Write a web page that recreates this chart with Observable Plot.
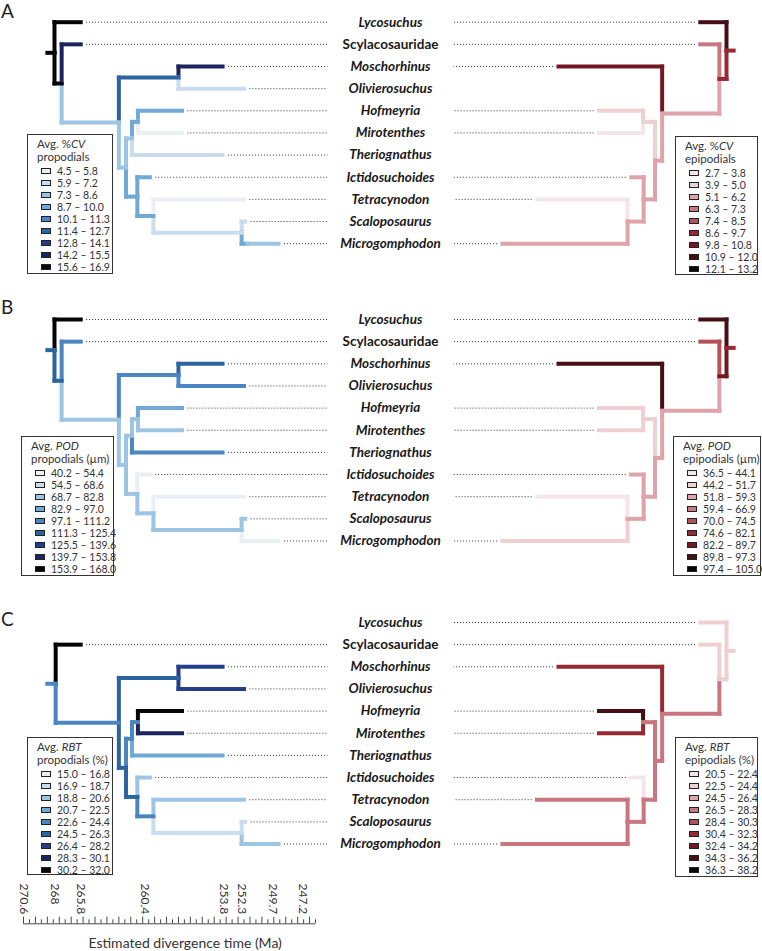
<!DOCTYPE html>
<html><head><meta charset="utf-8">
<script src="https://cdn.jsdelivr.net/npm/d3@7"></script>
<script src="https://cdn.jsdelivr.net/npm/@observablehq/plot@0.6"></script>
<style>
body{margin:0;background:#fff;font-family:Lato,"Open Sans",sans-serif;}
#wrap{position:relative;width:762px;height:951px;overflow:hidden;}
#wrap svg{position:absolute;left:0;top:0;}
.letter{position:absolute;font-size:19px;color:#222;line-height:20px;}
.legend{position:absolute;background:#fff;border:1.5px solid #333;box-sizing:border-box;color:#333;}
.legend .t{position:absolute;left:9px;font-size:11.5px;line-height:12px;white-space:nowrap;transform:translateY(-50%);}
.legend .it{position:absolute;font-size:10.5px;line-height:11px;white-space:nowrap;transform:translateY(-50%);}
.legend .sw{position:absolute;width:10px;height:6px;box-sizing:border-box;border:1px solid #222;transform:translateY(-50%);}
</style></head><body><div id="wrap"></div>
<script>
// ---------- data ----------
const taxa = ["Lycosuchus","Scylacosauridae","Moschorhinus","Olivierosuchus","Hofmeyria","Mirotenthes","Theriognathus","Ictidosuchoides","Tetracynodon","Scaloposaurus","Microgomphodon"];
const uprightTaxa = ["Scylacosauridae"];
const tipAges = [265.8, 265.8, 253.9, 252.1, 257.3, 257.3, 253.9, 260.0, 252.1, 252.0, 249.2];
const nodeNames = ["root","N1","N2","N3","N4","N5","N6","N7","N8","N9"];
const nodeAges = [268.0, 267.4, 262.6, 257.6, 262.0, 261.5, 261.0, 261.05, 259.7, 252.3];
const nodeChildren = [["Lycosuchus","N1"],["Scylacosauridae","N2"],["N3","N4"],["Moschorhinus","Olivierosuchus"],["N5","N7"],["N6","Theriognathus"],["Hofmeyria","Mirotenthes"],["Ictidosuchoides","N8"],["Tetracynodon","N9"],["Scaloposaurus","Microgomphodon"]];
const stemAge = 268.6;

const epipodialTaxa = ["Lycosuchus","Scylacosauridae","Moschorhinus","Hofmeyria","Mirotenthes","Ictidosuchoides","Tetracynodon","Microgomphodon"];
const rbtPropodialTaxa = taxa.filter(t => t !== "Lycosuchus");

// colour bins (1..9) of each branch, keyed by the branch's child; [bin, changeAge, bin] for a change along the branch
const cvPropodial = {stem:9, Lycosuchus:9, N1:9, Scylacosauridae:8, N2:3, N3:6, Moschorhinus:8, Olivierosuchus:2, N4:3, N5:3, N6:4, Hofmeyria:4, Mirotenthes:1, Theriognathus:2, N7:4, Ictidosuchoides:4, N8:4, Tetracynodon:1, N9:2, Scaloposaurus:2, Microgomphodon:[4, 251.8, 3]};
const cvEpipodial = {stem:6, Lycosuchus:8, N1:6, Scylacosauridae:4, N2:3, Moschorhinus:7, N4:3, N6:2, Hofmeyria:2, Mirotenthes:1, N7:3, Ictidosuchoides:3, N8:3, Tetracynodon:1, Microgomphodon:3};
const podPropodial = {stem:6, Lycosuchus:9, N1:6, Scylacosauridae:5, N2:3, N3:5, Moschorhinus:6, Olivierosuchus:5, N4:3, N5:3, N6:3, Hofmeyria:4, Mirotenthes:3, Theriognathus:5, N7:3, Ictidosuchoides:1, N8:3, Tetracynodon:1, N9:3, Scaloposaurus:3, Microgomphodon:1};
const podEpipodial = {stem:6, Lycosuchus:8, N1:7, Scylacosauridae:5, N2:3, Moschorhinus:8, N4:3, N6:2, Hofmeyria:2, Mirotenthes:2, N7:3, Ictidosuchoides:3, N8:3, Tetracynodon:1, Microgomphodon:2};
const rbtPropodial = {stem:5, Scylacosauridae:9, N2:5, N3:6, Moschorhinus:7, Olivierosuchus:7, N4:6, N5:5, N6:5, Hofmeyria:9, Mirotenthes:8, Theriognathus:4, N7:6, Ictidosuchoides:3, N8:5, Tetracynodon:3, N9:2, Scaloposaurus:2, Microgomphodon:3};
const rbtEpipodial = {stem:2, Lycosuchus:2, N1:2, Scylacosauridae:2, N2:4, Moschorhinus:6, N4:4, N6:4, Hofmeyria:8, Mirotenthes:6, N7:4, Ictidosuchoides:1, N8:4, Tetracynodon:4, Microgomphodon:4};

const bluePalette = ["#e9eff5","#c9ddee","#9cc4e3","#70a9d5","#4a87c2","#2c64a2","#233f88","#1b2660","#050505"];
const redPalette  = ["#f4e6e8","#eed0d3","#dea4a9","#c9767e","#b3525a","#982932","#731820","#470e14","#050505"];

const legendCvProp  = ["4.5 – 5.8","5.9 – 7.2","7.3 – 8.6","8.7 – 10.0","10.1 – 11.3","11.4 – 12.7","12.8 – 14.1","14.2 – 15.5","15.6 – 16.9"];
const legendCvEpi   = ["2.7 – 3.8","3.9 – 5.0","5.1 – 6.2","6.3 – 7.3","7.4 – 8.5","8.6 – 9.7","9.8 – 10.8","10.9 – 12.0","12.1 – 13.2"];
const legendPodProp = ["40.2 – 54.4","54.5 – 68.6","68.7 – 82.8","82.9 – 97.0","97.1 – 111.2","111.3 – 125.4","125.5 – 139.6","139.7 – 153.8","153.9 – 168.0"];
const legendPodEpi  = ["36.5 – 44.1","44.2 – 51.7","51.8 – 59.3","59.4 – 66.9","70.0 – 74.5","74.6 – 82.1","82.2 – 89.7","89.8 – 97.3","97.4 – 105.0"];
const legendRbtProp = ["15.0 – 16.8","16.9 – 18.7","18.8 – 20.6","20.7 – 22.5","22.6 – 24.4","24.5 – 26.3","26.4 – 28.2","28.3 – 30.1","30.2 – 32.0"];
const legendRbtEpi  = ["20.5 – 22.4","22.5 – 24.4","24.5 – 26.4","26.5 – 28.3","28.4 – 30.3","30.4 – 32.3","32.4 – 34.2","34.3 – 36.2","36.3 – 38.2"];

const axisTickLabels = [270.6, 268, 265.8, 260.4, 253.8, 252.3, 249.7, 247.2];
const axisTitle = "Estimated divergence time (Ma)";

// ---------- layout ----------
const rowStep = 22.15;
const centerAge = 239.81;      // age position of the centred tip labels (mirror axis)
const dotStopAge = 245.1;      // where dotted leaders stop, left side
const axisTitleStartAge = 265.15;
const panels = [
  {letter:"A", letterY:0, y0:21.7,
   left:{present:taxa, colors:cvPropodial, override:{}, legend:{title:'Avg. %<i>CV</i>', sub:'propodials', labels:legendCvProp, box:[27,134,86,140]}},
   right:{present:epipodialTaxa, colors:cvEpipodial, override:{}, legend:{title:'Avg. %<i>CV</i>', sub:'epipodials', labels:legendCvEpi, box:[675,136,83,139]}}},
  {letter:"B", letterY:296, y0:319,
   left:{present:taxa, colors:podPropodial, override:{}, legend:{title:'Avg. <i>POD</i>', sub:'propodials (µm)', labels:legendPodProp, box:[21,436,93,140]}},
   right:{present:epipodialTaxa, colors:podEpipodial, override:{}, legend:{title:'Avg. <i>POD</i>', sub:'epipodials (µm)', labels:legendPodEpi, box:[673,436,88,140]}}},
  {letter:"C", letterY:608, y0:622,
   left:{present:rbtPropodialTaxa, colors:rbtPropodial, override:{N1:267.9}, legend:{title:'Avg. <i>RBT</i>', sub:'propodials (%)', labels:legendRbtProp, box:[27,737,86,138]}},
   right:{present:epipodialTaxa, colors:rbtEpipodial, override:{}, legend:{title:'Avg. <i>RBT</i>', sub:'epipodials (%)', labels:legendRbtEpi, box:[675,737,83,140]}}}
];

// ---------- tree geometry ----------
const ageOf = {}; taxa.forEach((t,i)=>ageOf[t]=tipAges[i]); nodeNames.forEach((n,i)=>ageOf[n]=nodeAges[i]);
const kids = {}; nodeNames.forEach((n,i)=>kids[n]=nodeChildren[i]);

const segs = [], dots = [], labels = [];
function buildSide(panel, side, cfg) {
  const X = t => side === "L" ? t : 2*centerAge - t;
  const age = n => cfg.override[n] ?? ageOf[n];
  const pre = side === "L" ? "B" : "R";
  function edge(p, py, c) {
    const spec = [].concat(cfg.colors[c.name]);
    const pa = age(p), ca = age(c.name);
    segs.push({x1:X(pa), x2:X(pa), y1:py, y2:c.y, bin:pre+spec[0], o:0});
    let start = pa, bin = spec[0];
    for (let k=1;k<spec.length;k+=2){ segs.push({x1:X(start),x2:X(spec[k]),y1:c.y,y2:c.y,bin:pre+bin,o:1}); start=spec[k]; bin=spec[k+1]; }
    segs.push({x1:X(start), x2:X(ca), y1:c.y, y2:c.y, bin:pre+bin, o:1});
  }
  function walk(n) {
    if (!kids[n]) {
      if (!cfg.present.includes(n)) return null;
      return {name:n, y: panel.y0 + taxa.indexOf(n)*rowStep};
    }
    const ch = kids[n].map(walk).filter(Boolean);
    if (!ch.length) return null;
    if (ch.length === 1) return ch[0];
    const y = d3.mean(ch, c=>c.y);
    ch.forEach(c => edge(n, y, c));
    return {name:n, y};
  }
  const top = walk("root");
  segs.push({x1:X(stemAge), x2:X(age(top.name)), y1:top.y, y2:top.y, bin:pre+cfg.colors.stem, o:1});
  cfg.present.forEach(t => {
    const y = panel.y0 + taxa.indexOf(t)*rowStep;
    dots.push({x1:X(ageOf[t]-0.45), x2:X(dotStopAge), y});
  });
}
panels.forEach(p => {
  buildSide(p, "L", p.left);
  buildSide(p, "R", p.right);
  taxa.forEach((t,i) => labels.push({t, y:p.y0 + i*rowStep, upright: uprightTaxa.includes(t)}));
});
segs.sort((a,b)=>a.o-b.o);

const binKeys = [...bluePalette.map((c,i)=>"B"+(i+1)), ...redPalette.map((c,i)=>"R"+(i+1))];
const binColors = [...bluePalette, ...redPalette];

const minorTicks = d3.range(0, 50).map(i => +(axisTickLabels[0] - 0.5*i).toFixed(2));
const axisBase = 923.3;

const chart = Plot.plot({
  width: 762, height: 951, margin: 0,
  x: {domain: [272.53, 208.60], range: [0, 762], axis: null},
  y: {domain: [0, 951], range: [0, 951], axis: null},
  color: {type: "ordinal", domain: binKeys, range: binColors},
  style: {fontFamily: "Lato, 'Open Sans', sans-serif", background: "transparent", overflow: "visible"},
  marks: [
    Plot.link(dots, {x1:"x1", x2:"x2", y1:"y", y2:"y", stroke:"#333", strokeWidth:1, strokeDasharray:"1,2"}),
    Plot.link(segs, {x1:"x1", x2:"x2", y1:"y1", y2:"y2", stroke:"bin", strokeWidth:4, strokeLinecap:"square"}),
    Plot.text(labels.filter(d=>!d.upright), {x: centerAge, y:"y", text:"t", fontSize:13.5, fontWeight:"bold", fontStyle:"italic", fill:"#1a1a1a"}),
    Plot.text(labels.filter(d=>d.upright), {x: centerAge, y:"y", text:"t", fontSize:13.5, fontWeight:"bold", fill:"#1a1a1a"}),
    Plot.ruleX(minorTicks, {x: d=>d, y1: (d,i)=> i%2 ? axisBase-4 : axisBase-6.6, y2: axisBase, stroke:"#333", strokeWidth:0.9}),
    Plot.ruleY([axisBase], {x1: minorTicks[0], x2: minorTicks[minorTicks.length-1], stroke:"#333", strokeWidth:0.9}),
    Plot.text(axisTickLabels, {x: d=>d, y: 883, text: d=>String(d), rotate: 90, textAnchor:"start", fontSize:12, fill:"#333"}),
    Plot.text([axisTitle], {x: axisTitleStartAge, y: 943, text: d=>d, textAnchor:"start", fontSize:14, fill:"#333"})
  ]
});

const wrap = document.getElementById("wrap");
wrap.appendChild(chart);

panels.forEach(p => {
  const L = document.createElement("div");
  L.className = "letter"; L.textContent = p.letter;
  L.style.left = "1px"; L.style.top = (p.letterY + 1) + "px";
  wrap.appendChild(L);
  [["L", p.left, bluePalette], ["R", p.right, redPalette]].forEach(([side, cfg, pal]) => {
    const lg = cfg.legend, [bx, by, bw, bh] = lg.box;
    const box = document.createElement("div");
    box.className = "legend";
    Object.assign(box.style, {left: bx+"px", top: by+"px", width: bw+"px", height: bh+"px"});
    let html = `<div class="t" style="top:9px">${lg.title}</div><div class="t" style="top:22px">${lg.sub}</div>`;
    lg.labels.forEach((s, i) => {
      const cy = 36 + i*12;
      html += `<div class="sw" style="left:13px;top:${cy}px;background:${pal[i]}"></div><div class="it" style="left:29px;top:${cy}px">${s}</div>`;
    });
    box.innerHTML = html;
    wrap.appendChild(box);
  });
});
</script></body></html>
